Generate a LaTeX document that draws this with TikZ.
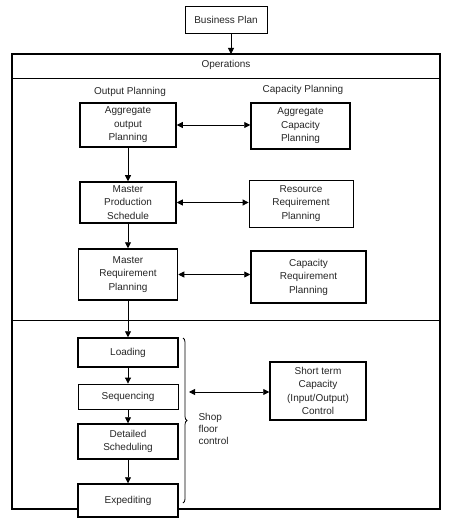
\documentclass[tikz,border=0pt]{standalone}
\usepackage{fontspec}
\setmainfont{Liberation Sans}
\usetikzlibrary{arrows.meta, positioning, decorations.pathreplacing}

\begin{document}
\begin{tikzpicture}[
	x=1pt, y=-1pt,
	font=\fontsize{10}{13.5}\selectfont,
	stage/.style={rectangle, draw=black, line width=1.5pt, fill=white,
		align=center, inner sep=1pt, text=black!85},
	thinstage/.style={stage, line width=0.8pt},
	flow/.style={-{Triangle[length=6pt, width=6pt]}, line width=0.8pt},
	link/.style={{Triangle[length=6pt, width=6pt]}-{Triangle[length=6pt, width=6pt]}, line width=0.8pt},
	caption/.style={text=black!85, align=center}
	]
	\useasboundingbox (0,0) rectangle (458,526);
	
	% Top: business plan and operations frame
	\node[thinstage, minimum width=82pt, minimum height=27pt] (BP) at (226,19.5) {Business Plan};
	\node[caption] (ops) at (226,65) {Operations};
	\draw[line width=1.5pt] (12,54) rectangle (440,509);
	\draw[line width=0.8pt] (12,78) -- (440,78);
	\draw[line width=0.8pt] (12,320) -- (440,320);
	\coordinate (opstop) at (231,54);
	\draw[flow] (BP.south -| opstop) -- (opstop);
	
	% Column headings
	\node[caption] (outlbl) at (130,92) {Output Planning};
	\node[caption] (caplbl) at (303,90) {Capacity Planning};
	
	% Planning rows
	\node[stage, minimum width=96pt, minimum height=44pt] (AOP) at (128,125) {Aggregate\\output\\Planning};
	\node[stage, minimum width=99pt, minimum height=46pt] (ACP) at (300.5,126) {Aggregate\\Capacity\\Planning};
	\node[stage, minimum width=96pt, minimum height=41pt] (MPS) at (128,202.5) {Master\\Production\\Schedule};
	\node[thinstage, minimum width=104pt, minimum height=47pt] (RRP) at (301,203.5) {Resource\\Requirement\\Planning};
	\node[stage, minimum width=99pt, minimum height=51pt] (MRP) at (128,274.5) {Master\\Requirement\\Planning};
	\node[stage, minimum width=115pt, minimum height=52pt] (CRP) at (308.5,277) {Capacity\\Requirement\\Planning};
	
	% Shop floor control
	\node[stage, minimum width=100pt, minimum height=29pt] (LD) at (128,352.5) {Loading};
	\node[thinstage, minimum width=100pt, minimum height=25pt] (SQ) at (128,396.5) {Sequencing};
	\node[stage, minimum width=100pt, minimum height=35pt] (DS) at (128,441.5) {Detailed\\Scheduling};
	\node[stage, minimum width=100pt, minimum height=33pt] (EX) at (128,500.5) {Expediting};
	\node[stage, minimum width=96pt, minimum height=58pt] (STC) at (318,391) {Short term\\Capacity\\(Input/Output)\\Control};
	\node[caption, align=left, anchor=north west, font=\fontsize{10}{12}\selectfont] (sfc) at (195,410) {Shop\\floor\\control};
	
	\draw[line width=0.8pt, decorate,
		decoration={brace, amplitude=4pt}] (183,338) -- (183,503);
	\coordinate (bracetip) at (189,392);
	
	% Arrows down the output column
	\draw[flow] (AOP) -- (MPS);
	\draw[flow] (MPS) -- (MRP);
	\draw[flow] (MRP) -- (LD);
	\draw[flow] (LD) -- (SQ);
	\draw[flow] (SQ) -- (DS);
	\draw[flow] (DS) -- (EX);
	
	% Arrows across to capacity planning
	\draw[link] (AOP.east) -- (AOP.east -| ACP.west);
	\draw[link] (MPS.east) -- (MPS.east -| RRP.west);
	\draw[link] (MRP.east) -- (MRP.east -| CRP.west);
	\draw[link] (bracetip) -- (bracetip -| STC.west);
	
\end{tikzpicture}
\end{document}
